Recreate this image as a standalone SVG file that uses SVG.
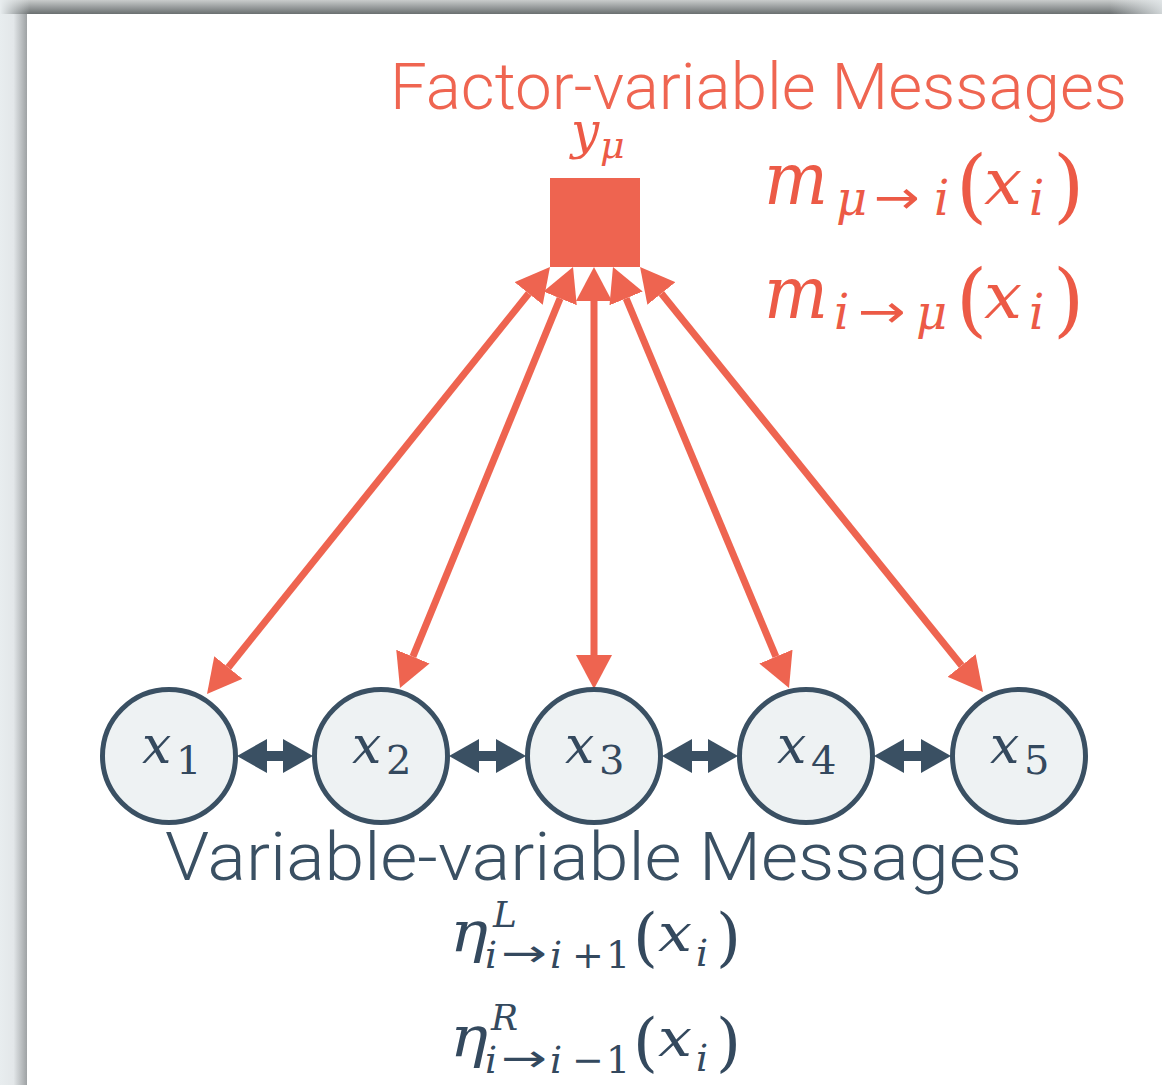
<svg xmlns="http://www.w3.org/2000/svg" width="1162" height="1085" viewBox="0 0 1162 1085">
  <defs>
    <linearGradient id="topShadow" x1="0" y1="0" x2="0" y2="1">
      <stop offset="0" stop-color="#c9cccc"/>
      <stop offset="1" stop-color="#6a6f70"/>
    </linearGradient>
    <linearGradient id="topFadeR" x1="0" y1="0" x2="1" y2="0">
      <stop offset="0" stop-color="#e8edef" stop-opacity="0"/>
      <stop offset="1" stop-color="#e8edef" stop-opacity="0.8"/>
    </linearGradient>
    <linearGradient id="topFadeL" x1="0" y1="0" x2="1" y2="0">
      <stop offset="0" stop-color="#e8edef" stop-opacity="1"/>
      <stop offset="1" stop-color="#e8edef" stop-opacity="0"/>
    </linearGradient>
    <linearGradient id="leftShadow" x1="0" y1="0" x2="1" y2="0">
      <stop offset="0" stop-color="#e8edef"/>
      <stop offset="0.5" stop-color="#e3e7e9"/>
      <stop offset="1" stop-color="#9ea2a4"/>
    </linearGradient>
    <marker id="redHead" viewBox="0 -18 34 36" refX="0" refY="0" markerWidth="34" markerHeight="36" markerUnits="userSpaceOnUse" orient="auto-start-reverse">
      <path d="M0,-18 L34,0 L0,18 Z" fill="#ee6450"/>
    </marker>
    <marker id="darkHead" viewBox="0 -17 30 34" refX="0" refY="0" markerWidth="30" markerHeight="34" markerUnits="userSpaceOnUse" orient="auto-start-reverse">
      <path d="M0,-17 L30,0 L0,17 Z" fill="#3a5063"/>
    </marker>
  </defs>
  <style>
    .red-line { stroke: #ee6450; stroke-width: 7; fill: none; marker-start: url(#redHead); marker-end: url(#redHead); }
    .dark-line { stroke: #3a5063; stroke-width: 10; fill: none; marker-start: url(#darkHead); marker-end: url(#darkHead); }
    .var { fill: #eef2f3; stroke: #3a5063; stroke-width: 5; }
    .factor { fill: #ee6450; }
    .title { font-family: "Roboto", "Liberation Sans", sans-serif; font-weight: 300; }
    .math { font-family: "DejaVu Serif", serif; }
    .it { font-style: italic; }
    .up { font-style: normal; }
    .arr { font-family: "DejaVu Sans", sans-serif; font-style: normal; }
    .red { fill: #ec5a46; }
    .dark { fill: #34495e; }
  </style>

  <!-- background / page shadow -->
  <rect x="0" y="0" width="1162" height="1085" fill="#e8edef"/>
  <rect x="0" y="0" width="1162" height="14" fill="url(#topShadow)"/>
  <rect x="0" y="0" width="30" height="14" fill="url(#topFadeL)"/>
  <rect x="1110" y="0" width="52" height="14" fill="url(#topFadeR)"/>
  <rect x="0" y="14" width="27" height="1071" fill="url(#leftShadow)"/>
  <rect x="27" y="14" width="1135" height="1071" fill="#ffffff"/>

  <!-- titles and message labels -->
  <g id="factor-title">
    <text class="title" x="390" y="109" font-size="64" fill="#ef6551" textLength="737" lengthAdjust="spacingAndGlyphs">Factor-variable Messages</text>
  </g>
  <g id="factor-messages">
    <text class="math red" y="204">
      <tspan class="it" x="764" font-size="72" textLength="64" lengthAdjust="spacingAndGlyphs">m</tspan>
      <tspan class="it" x="836" y="215" font-size="48">μ</tspan>
      <tspan class="arr" x="874" y="213" font-size="46" textLength="46" lengthAdjust="spacingAndGlyphs">→</tspan>
      <tspan class="it" x="934" y="215" font-size="48">i</tspan>
      <tspan class="up" x="956" y="213" font-size="80">(</tspan>
      <tspan class="it" x="984" y="204" font-size="64" textLength="38" lengthAdjust="spacingAndGlyphs">x</tspan>
      <tspan class="it" x="1029" y="215" font-size="48">i</tspan>
      <tspan class="up" x="1053" y="213" font-size="80">)</tspan>
    </text>
    <text class="math red" y="318">
      <tspan class="it" x="764" font-size="72" textLength="64" lengthAdjust="spacingAndGlyphs">m</tspan>
      <tspan class="it" x="834" y="329" font-size="48">i</tspan>
      <tspan class="arr" x="858" y="327" font-size="46" textLength="48" lengthAdjust="spacingAndGlyphs">→</tspan>
      <tspan class="it" x="916" y="329" font-size="48">μ</tspan>
      <tspan class="up" x="956" y="327" font-size="80">(</tspan>
      <tspan class="it" x="984" y="318" font-size="64" textLength="38" lengthAdjust="spacingAndGlyphs">x</tspan>
      <tspan class="it" x="1029" y="329" font-size="48">i</tspan>
      <tspan class="up" x="1053" y="327" font-size="80">)</tspan>
    </text>
  </g>

  <!-- connectors -->
  <g id="connectors">
    <line class="red-line" x1="528.7" y1="293.5" x2="228.3" y2="667.5"/>
    <line class="red-line" x1="560.1" y1="298.4" x2="412.9" y2="656.6"/>
    <line class="red-line" x1="594" y1="301" x2="594" y2="655"/>
    <line class="red-line" x1="626.1" y1="298.4" x2="775.9" y2="656.6"/>
    <line class="red-line" x1="661.4" y1="293.5" x2="961.6" y2="665.5"/>
    <line class="dark-line" x1="267" y1="756" x2="283" y2="756"/>
    <line class="dark-line" x1="479" y1="756" x2="496" y2="756"/>
    <line class="dark-line" x1="692" y1="756" x2="708" y2="756"/>
    <line class="dark-line" x1="904" y1="756" x2="921" y2="756"/>
  </g>

  <!-- factor node -->
  <g id="factor-y">
    <rect class="factor" x="550" y="178" width="90" height="89"/>
    <text class="math red" y="148">
      <tspan class="it" x="571" font-size="50">y</tspan>
      <tspan class="it" x="600" y="158" font-size="38">μ</tspan>
    </text>
  </g>

  <!-- variable nodes -->
  <g id="node-x1">
    <circle class="var" cx="169" cy="756" r="66.5"/>
    <text class="math dark" y="763"><tspan class="it" x="142" font-size="52">x</tspan><tspan class="up" x="176" y="774" font-size="40">1</tspan></text>
  </g>
  <g id="node-x2">
    <circle class="var" cx="381" cy="756" r="66.5"/>
    <text class="math dark" y="763"><tspan class="it" x="352" font-size="52">x</tspan><tspan class="up" x="386" y="774" font-size="40">2</tspan></text>
  </g>
  <g id="node-x3">
    <circle class="var" cx="594" cy="756" r="66.5"/>
    <text class="math dark" y="763"><tspan class="it" x="565" font-size="52">x</tspan><tspan class="up" x="599" y="774" font-size="40">3</tspan></text>
  </g>
  <g id="node-x4">
    <circle class="var" cx="806" cy="756" r="66.5"/>
    <text class="math dark" y="763"><tspan class="it" x="777" font-size="52">x</tspan><tspan class="up" x="811" y="774" font-size="40">4</tspan></text>
  </g>
  <g id="node-x5">
    <circle class="var" cx="1019" cy="756" r="66.5"/>
    <text class="math dark" y="763"><tspan class="it" x="990" font-size="52">x</tspan><tspan class="up" x="1024" y="774" font-size="40">5</tspan></text>
  </g>

  <!-- variable-variable labels -->
  <g id="variable-title">
    <text class="title" x="165" y="880" font-size="67" fill="#3a5063" textLength="857" lengthAdjust="spacingAndGlyphs">Variable-variable Messages</text>
  </g>
  <g id="variable-messages">
    <text class="math dark" y="951">
      <tspan class="it" x="450" font-size="56" textLength="38" lengthAdjust="spacingAndGlyphs">η</tspan>
      <tspan class="it" x="493" y="927" font-size="36">L</tspan>
      <tspan class="it" x="485" y="968" font-size="38">i</tspan>
      <tspan class="arr" x="501" y="966" font-size="38" textLength="46" lengthAdjust="spacingAndGlyphs">→</tspan>
      <tspan class="it" x="550" y="968" font-size="38">i</tspan>
      <tspan class="up" x="572" y="968" font-size="38">+</tspan>
      <tspan class="up" x="606" y="968" font-size="38">1</tspan>
      <tspan class="up" x="633" y="959" font-size="64">(</tspan>
      <tspan class="it" x="658" y="951" font-size="52" textLength="34" lengthAdjust="spacingAndGlyphs">x</tspan>
      <tspan class="it" x="696" y="966" font-size="38">i</tspan>
      <tspan class="up" x="716" y="959" font-size="64">)</tspan>
    </text>
    <text class="math dark" y="1056">
      <tspan class="it" x="450" font-size="56" textLength="38" lengthAdjust="spacingAndGlyphs">η</tspan>
      <tspan class="it" x="491" y="1030" font-size="36">R</tspan>
      <tspan class="it" x="485" y="1073" font-size="38">i</tspan>
      <tspan class="arr" x="501" y="1071" font-size="38" textLength="46" lengthAdjust="spacingAndGlyphs">→</tspan>
      <tspan class="it" x="550" y="1073" font-size="38">i</tspan>
      <tspan class="up" x="572" y="1073" font-size="38">−</tspan>
      <tspan class="up" x="606" y="1073" font-size="38">1</tspan>
      <tspan class="up" x="633" y="1064" font-size="64">(</tspan>
      <tspan class="it" x="658" y="1056" font-size="52" textLength="34" lengthAdjust="spacingAndGlyphs">x</tspan>
      <tspan class="it" x="696" y="1071" font-size="38">i</tspan>
      <tspan class="up" x="716" y="1064" font-size="64">)</tspan>
    </text>
  </g>
</svg>
